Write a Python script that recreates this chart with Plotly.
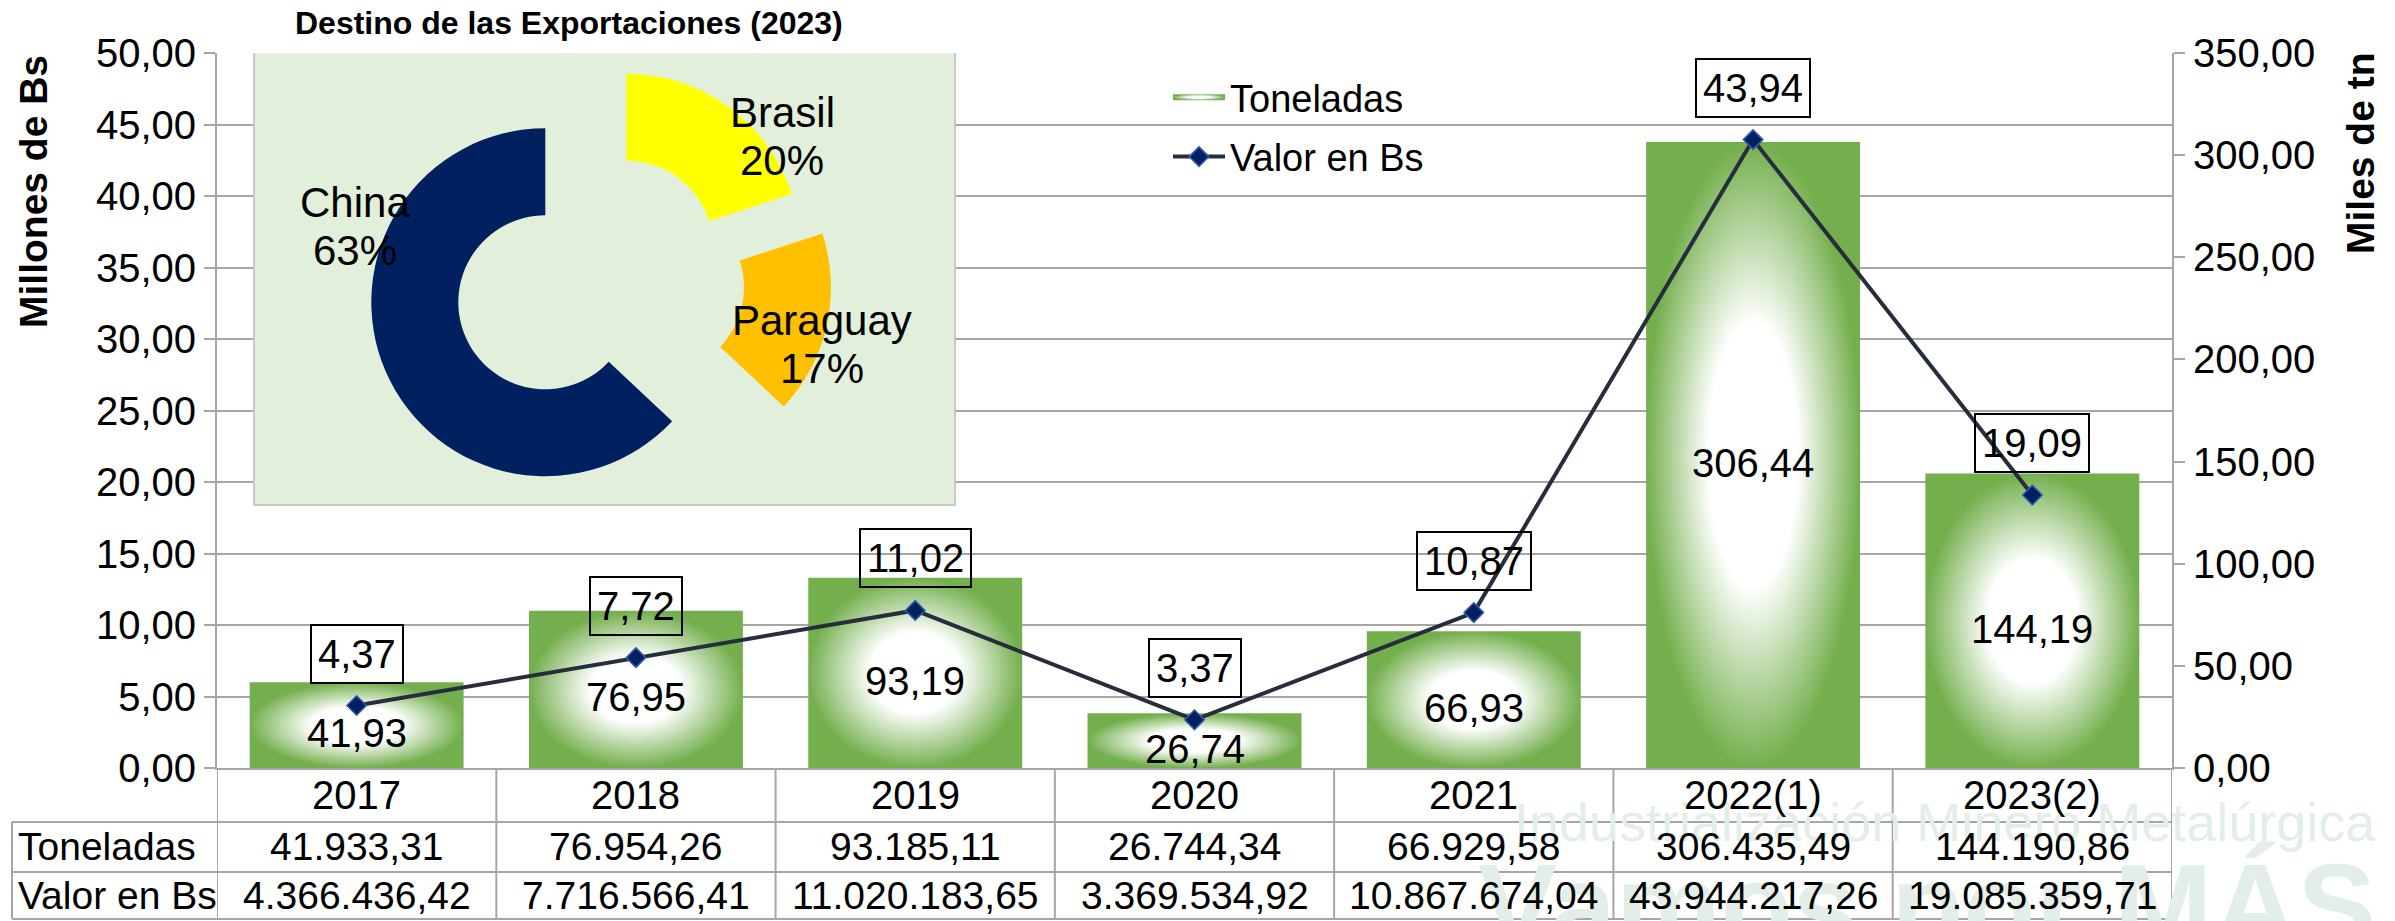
import plotly.graph_objects as go

# datos
anios = ["2017", "2018", "2019", "2020", "2021", "2022(1)", "2023(2)"]
toneladas = [41933.31, 76954.26, 93185.11, 26744.34, 66929.58, 306435.49, 144190.86]
valor_bs = [4366436.42, 7716566.41, 11020183.65, 3369534.92, 10867674.04, 43944217.26, 19085359.71]

destinos = ["Brasil", "Paraguay", "China"]
participacion = [20, 17, 63]
colores_destino = ["#FFFF00", "#FFC000", "#002060"]

miles_tn = [t / 1000 for t in toneladas]
millones_bs = [v / 1e6 for v in valor_bs]

FUENTE = "Arial, Liberation Sans, sans-serif"
VERDE = "#74AF4D"
GRIS = "#A6A6A6"
AGUA = "#E3EEE9"

W, H = 2395, 921
L, R, T, B = 217, 2172, 53, 768   # area de trazado en px


# el "papel" va de y=0 a y=B para que la dona pueda subir sobre el area de trazado
def px(x):
    return (x - L) / (R - L)


def py(y):
    return (B - y) / B


def fmt(v):
    s = f"{v:,.2f}"
    return s.replace(",", "X").replace(".", ",").replace("X", ".")


def texto(txt, x, y, size=40, xref="paper", yref="paper", **kw):
    d = dict(text=txt, x=x, y=y, xref=xref, yref=yref, showarrow=False,
             xanchor="center", yanchor="middle",
             font=dict(size=size, color=kw.pop("color", "black"), family=FUENTE))
    d.update(kw)
    return d


fig = go.Figure()

# barras con degradado radial (una traza por barra)
media = 0.383
for i, v in enumerate(miles_tn):
    fig.add_trace(go.Scatter(
        x=[i - media, i + media, i + media, i - media, i - media],
        y=[0, 0, v, v, 0],
        fill="toself", mode="none",
        fillgradient=dict(type="radial",
                          colorscale=[[0, "#FFFFFF"], [0.42, "#FFFFFF"], [1, VERDE]]),
        name="Toneladas", legendgroup="ton", showlegend=(i == 0),
        hoverinfo="skip", yaxis="y",
    ))

fig.add_trace(go.Scatter(
    x=list(range(len(anios))), y=millones_bs, yaxis="y2",
    mode="lines+markers", name="Valor en Bs", legendgroup="val",
    line=dict(color="#262E3D", width=4),
    marker=dict(symbol="diamond", size=15, color="#002060",
                line=dict(color="#2F5CB3", width=1.5)),
))

# dona de destinos (porciones separadas)
separacion = [0.2, 0.3, 0.38]
radio = 174
cx, cy = 606, 276
lado = radio * (1 + max(separacion))
fig.add_trace(go.Pie(
    labels=destinos, values=participacion, hole=0.5, sort=False,
    direction="clockwise", rotation=0, pull=separacion,
    marker=dict(colors=colores_destino), textinfo="none",
    showlegend=False, hoverinfo="label+percent",
    domain=dict(x=[px(cx - lado), px(cx + lado)], y=[py(cy + lado), py(cy - lado)]),
))

anots = []
# marca de agua
anots.append(texto("Industrialización Minero Metalúrgica", px(1945), py(822), size=54,
                   color=AGUA))
anots.append(texto("<b>Vamos por MÁS</b>", px(2378), py(838), size=118, color=AGUA,
                   xanchor="right", yanchor="top"))

anots.append(texto("<b>Destino de las Exportaciones (2023)</b>", px(569), py(23), size=32))
anots.append(texto("<b>Millones de Bs</b>", px(33), py(192), size=39, textangle=-90))
anots.append(texto("<b>Miles de tn</b>", px(2360), py(153), size=39, textangle=-90))

# etiquetas de la dona
pos_dona = {"China": (355, 226), "Brasil": (782, 136), "Paraguay": (822, 344)}
for lab, p in zip(destinos, participacion):
    x0, y0 = pos_dona[lab]
    anots.append(texto(lab, px(x0), py(y0 - 24), size=42))
    anots.append(texto(f"{p}%", px(x0), py(y0 + 24), size=42))

# etiquetas de datos
for i, v in enumerate(miles_tn):
    anots.append(texto(fmt(v), i, v / 2, xref="x", yref="y", yshift=-8))
for i, v in enumerate(millones_bs):
    anots.append(texto(fmt(v), i, v, xref="x", yref="y2", yshift=52,
                       bordercolor="black", borderwidth=2, borderpad=6))

# tabla de datos
for i, a in enumerate(anios):
    anots.append(texto(a, i, py(795), xref="x"))
    anots.append(texto(fmt(toneladas[i]), i, py(846), xref="x", size=39))
    anots.append(texto(fmt(valor_bs[i]), i, py(895), xref="x", size=39))
for nombre, yy in [("Toneladas", 846), ("Valor en Bs", 895)]:
    anots.append(texto(nombre, px(16), py(yy), xanchor="left", size=39))

linea = dict(color=GRIS, width=2)
formas = []
for yy in [822, 872, 919]:
    formas.append(dict(type="line", xref="paper", yref="paper", x0=px(12), x1=1,
                       y0=py(yy), y1=py(yy), line=linea))
formas.append(dict(type="line", xref="paper", yref="paper", x0=px(12), x1=px(12),
                   y0=py(822), y1=py(919), line=linea))
for i in range(len(anios) + 1):
    formas.append(dict(type="line", xref="x", yref="paper", x0=i - 0.5, x1=i - 0.5,
                       y0=0, y1=py(919), line=linea))

# recuadro de la dona
x_por_px = 7 / (R - L)
y_por_px = 350 / (B - T)
formas.append(dict(type="rect", xref="x", yref="y", layer="between",
                   x0=(254 - L) * x_por_px - 0.5, x1=(955 - L) * x_por_px - 0.5,
                   y0=(B - 505) * y_por_px, y1=(B - 50) * y_por_px,
                   fillcolor="#E2EFDA", line=dict(color="#C8C8C8", width=2)))

fig.update_layout(
    width=W, height=H, autosize=False,
    margin=dict(l=L, r=W - R, t=0, b=H - B),
    paper_bgcolor="white", plot_bgcolor="white",
    separators=",.",
    font=dict(family=FUENTE, size=40, color="black"),
    xaxis=dict(range=[-0.5, 6.5], showgrid=False, zeroline=False, showticklabels=False,
               showline=True, linecolor=GRIS, linewidth=2, automargin=False),
    yaxis=dict(range=[0, 350], dtick=50, tickformat=".2f", side="right", showgrid=False,
               domain=[0, (B - T) / B],
               zeroline=False, showline=True, linecolor=GRIS, linewidth=2,
               ticks="outside", ticklen=11, tickcolor=GRIS, tickwidth=2,
               tickfont=dict(size=40), automargin=False),
    yaxis2=dict(range=[0, 50], dtick=5, tickformat=".2f", side="left", overlaying="y",
                anchor="x", showgrid=True, gridcolor=GRIS, gridwidth=2, zeroline=False,
                showline=True, linecolor=GRIS, linewidth=2,
                ticks="outside", ticklen=11, tickcolor=GRIS, tickwidth=2,
                tickfont=dict(size=40), automargin=False),
    legend=dict(x=px(1168), y=py(66), xanchor="left", yanchor="top",
                bgcolor="rgba(0,0,0,0)", font=dict(size=38), itemwidth=52,
                tracegroupgap=7, traceorder="grouped"),
    annotations=anots,
    shapes=formas,
)

# sin margen del body para que el lienzo empiece en la esquina
fig.write_html("out.html", config={"displayModeBar": False},
               post_script="document.body.style.margin='0';")
